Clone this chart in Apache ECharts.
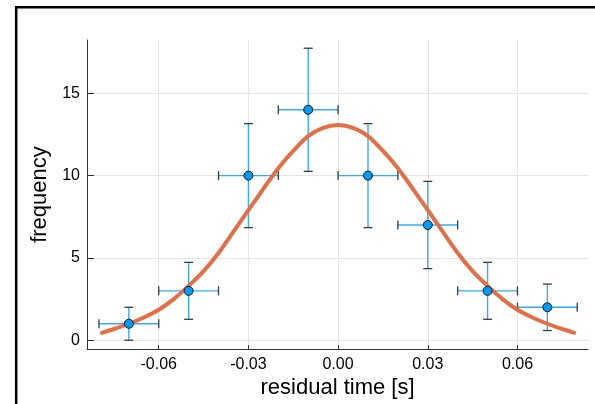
<!DOCTYPE html>
<html>
<head>
<meta charset="utf-8">
<script src="https://cdn.jsdelivr.net/npm/echarts@6/dist/echarts.min.js"></script>
<style>
html, body { margin: 0; padding: 0; background: #fff; }
#chart { width: 595px; height: 404px; }
</style>
</head>
<body>
<div id="chart"></div>
<script>
// histogram points (bin centre, count) with their errors
var binCenters = [-0.07, -0.05, -0.03, -0.01, 0.01, 0.03, 0.05, 0.07];
var binHalfWidth = [0.01, 0.01, 0.01, 0.01, 0.01, 0.01, 0.01, 0.01];
var counts = [1, 3, 10, 14, 10, 7, 3, 2];
var countErr = [1, 1.73, 3.16, 3.74, 3.16, 2.65, 1.73, 1.41];

// fitted curve
var fitX = [-0.079, -0.075, -0.07, -0.065, -0.06, -0.055, -0.05, -0.045, -0.04, -0.035, -0.03,
            -0.025, -0.02, -0.015, -0.01, -0.005, 0, 0.005, 0.01, 0.015, 0.02, 0.025, 0.03,
            0.035, 0.04, 0.045, 0.05, 0.055, 0.06, 0.065, 0.07, 0.075, 0.079];
var fitY = [0.45, 0.68, 1.0, 1.38, 1.85, 2.5, 3.3, 4.2, 5.3, 6.6, 7.9,
            9.2, 10.45, 11.5, 12.4, 12.9, 13.07, 12.9, 12.4, 11.5, 10.45, 9.2, 7.9,
            6.6, 5.3, 4.2, 3.3, 2.5, 1.85, 1.38, 1.0, 0.68, 0.45];

var xTicks = [-0.06, -0.03, 0, 0.03, 0.06];
var yTicks = [0, 5, 10, 15];

var errData = [], pointData = [], fitData = [];
for (var i = 0; i < binCenters.length; i++) {
    errData.push([binCenters[i], counts[i], binHalfWidth[i], countErr[i]]);
    pointData.push([binCenters[i], counts[i]]);
}
for (var j = 0; j < fitX.length; j++) {
    fitData.push([fitX[j], fitY[j]]);
}

function renderErr(params, api) {
    var x = api.value(0), y = api.value(1), dx = api.value(2), dy = api.value(3);
    var l = api.coord([x - dx, y]), r = api.coord([x + dx, y]);
    var b = api.coord([x, y - dy]), t = api.coord([x, y + dy]);
    var c = 4.5;
    var blue = { stroke: '#35abf6', lineWidth: 1.4 };
    var cap = { stroke: '#3a3a3a', lineWidth: 1.3 };
    return {
        type: 'group',
        children: [
            { type: 'line', shape: { x1: l[0], y1: l[1], x2: r[0], y2: r[1] }, style: blue },
            { type: 'line', shape: { x1: b[0], y1: b[1], x2: t[0], y2: t[1] }, style: blue },
            { type: 'line', shape: { x1: l[0], y1: l[1] - c, x2: l[0], y2: l[1] + c }, style: cap },
            { type: 'line', shape: { x1: r[0], y1: r[1] - c, x2: r[0], y2: r[1] + c }, style: cap },
            { type: 'line', shape: { x1: b[0] - c, y1: b[1], x2: b[0] + c, y2: b[1] }, style: cap },
            { type: 'line', shape: { x1: t[0] - c, y1: t[1], x2: t[0] + c, y2: t[1] }, style: cap }
        ]
    };
}

var myChart = echarts.init(document.getElementById('chart'), null, { renderer: 'canvas' });
var font = 'Liberation Sans';

var option = {
    animation: false,
    backgroundColor: '#fff',
    textStyle: { fontFamily: font },
    graphic: [{
        type: 'rect',
        shape: { x: 16.2, y: 7.2, width: 800, height: 600 },
        style: { fill: 'none', stroke: '#000', lineWidth: 2.5 },
        silent: true
    }],
    grid: { left: 87, right: 7, top: 40, bottom: 51 },
    xAxis: {
        type: 'value',
        min: -0.084,
        max: 0.0836,
        name: 'residual time [s]',
        nameLocation: 'middle',
        nameGap: 22,
        nameTextStyle: { fontSize: 22, color: '#000', fontFamily: font },
        axisLine: { onZero: false, lineStyle: { color: '#333', width: 1 } },
        axisTick: { show: true, inside: true, length: 4, customValues: xTicks, lineStyle: { color: '#333' } },
        axisLabel: {
            customValues: xTicks,
            fontSize: 16, color: '#000', margin: 7, fontFamily: font,
            formatter: function (v) { return v.toFixed(2); }
        },
        splitLine: { show: true, lineStyle: { color: '#e6e6e6', width: 1 } }
    },
    yAxis: {
        type: 'value',
        min: -0.54,
        max: 18.24,
        name: 'frequency',
        nameLocation: 'middle',
        nameGap: 36,
        nameTextStyle: { fontSize: 22, color: '#000', fontFamily: font },
        axisLine: { show: true, onZero: false, lineStyle: { color: '#333', width: 1 } },
        axisTick: { show: true, inside: true, length: 7, customValues: yTicks, lineStyle: { color: '#333' } },
        axisLabel: {
            customValues: yTicks,
            fontSize: 16, color: '#000', margin: 7, fontFamily: font
        },
        splitLine: { show: true, lineStyle: { color: '#e6e6e6', width: 1 } }
    },
    series: [
        {
            type: 'custom',
            renderItem: renderErr,
            data: errData,
            z: 1,
            encode: { x: 0, y: 1 }
        },
        {
            type: 'line',
            data: fitData,
            showSymbol: false,
            smooth: 0.3,
            z: 2,
            lineStyle: { color: '#e26f46', width: 4, cap: 'round' }
        },
        {
            type: 'scatter',
            data: pointData,
            symbol: 'circle',
            symbolSize: 9,
            z: 3,
            itemStyle: { color: '#009af9', borderColor: '#1a1a1a', borderWidth: 1, opacity: 1 }
        }
    ]
};

myChart.setOption(option);
</script>
</body>
</html>
